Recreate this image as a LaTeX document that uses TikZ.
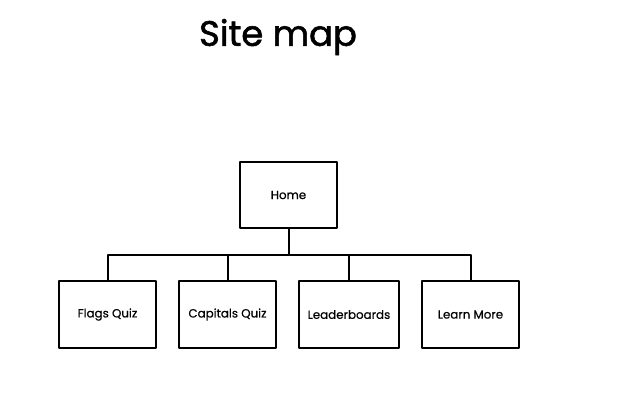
\documentclass[tikz,border=0pt]{standalone}
\usepackage{fontspec}
\setmainfont{Poppins}
% slightly heavier strokes for a hand-drawn marker look
\newfontfamily\headfont[FakeBold=1.6]{Poppins}
\newfontfamily\labelfont[FakeBold=0.6]{Poppins}
\begin{document}
\begin{tikzpicture}[x=0.75pt,y=-0.75pt,
  pagebox/.style={draw=black,line width=1.6pt,minimum width=73pt,minimum height=50pt,inner sep=0pt,font=\labelfont\fontsize{8.9pt}{10pt}\selectfont,line join=round},
  link/.style={draw=black,line width=1.5pt,line join=round}]
  \useasboundingbox (0,0) rectangle (619,400);
  \node[font=\headfont\fontsize{26.5pt}{30pt}\selectfont] (title) at (278,37) {Site map};
  \node[pagebox] (home) at (288.5,195) {Home};
  \node[pagebox] (flags) at (107.5,314.5) {Flags Quiz};
  \node[pagebox] (capitals) at (227.5,314.5) {Capitals Quiz};
  \node[pagebox,minimum width=75pt] (leader) at (349,314.5) {Leaderboards};
  \node[pagebox] (learn) at (470.5,314.5) {Learn More};
  \coordinate (hub) at (288.5,255);
  \draw[link] (home.south) -- (hub);
  \draw[link] (flags.north) |- (hub) -| (learn.north);
  \draw[link] (capitals.north) -- (capitals.north |- hub);
  \draw[link] (leader.north) -- (leader.north |- hub);
\end{tikzpicture}
\end{document}
